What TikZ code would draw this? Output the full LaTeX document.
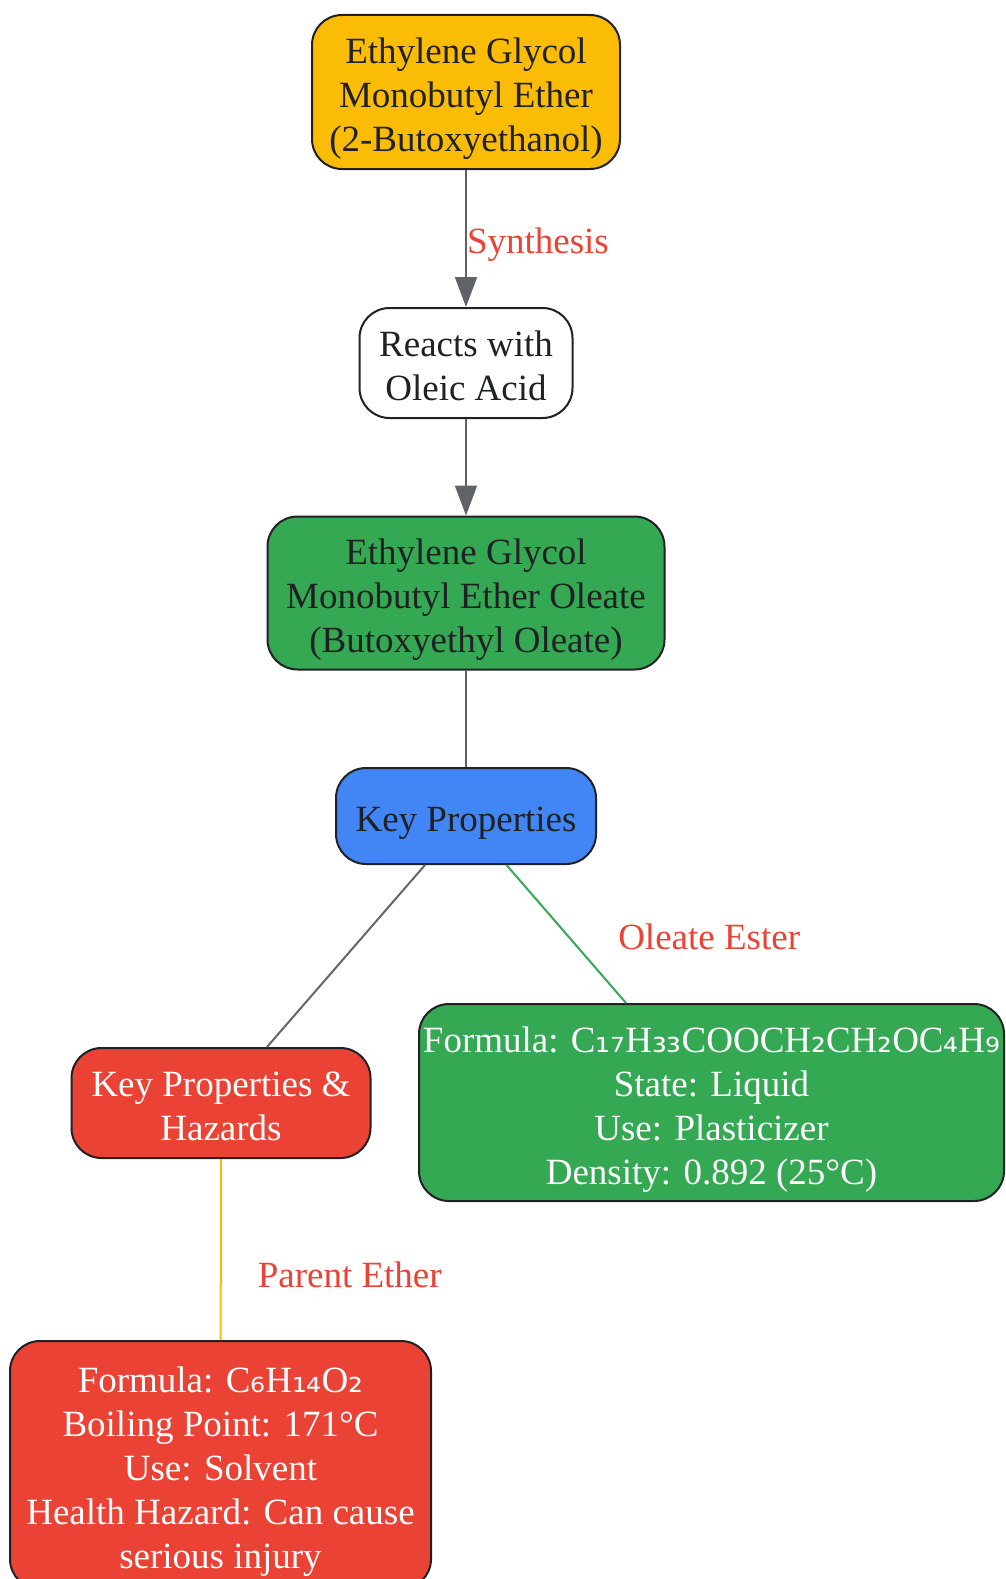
\documentclass[tikz,border=0pt]{standalone}
\usepackage{fontspec}
\setmainfont{Liberation Serif}
\newfontfamily\subfont{DejaVu Sans}
\usetikzlibrary{arrows.meta}

\definecolor{gyellow}{HTML}{FBBC05}
\definecolor{ggreen}{HTML}{34A853}
\definecolor{gblue}{HTML}{4285F4}
\definecolor{gred}{HTML}{EA4335}
\definecolor{edgegray}{HTML}{5F6368}
\definecolor{linegray}{HTML}{666666}
\definecolor{inkdark}{HTML}{202124}

\newcommand{\chemsub}[1]{{\subfont #1}}

\tikzset{
  box/.style={draw=inkdark, line width=2pt, rounded corners=30pt, align=center,
    font=\fontsize{37}{44}\selectfont, inner sep=0pt, text depth=8pt},
  lines/.style={text height=#1},
  lbl/.style={text=gred, font=\fontsize{37}{44}\selectfont, inner sep=0pt},
  tip/.style={-{Triangle[length=30pt,width=22pt]}},
}

\begin{document}
\begin{tikzpicture}[x=1pt,y=-1pt]
\useasboundingbox (0,0) rectangle (1006,1579);

\node[box, lines=127pt, fill=gyellow, text=inkdark, minimum width=308pt, minimum height=154pt] (glycol) at (466,92) {Ethylene Glycol\\Monobutyl Ether\\(2-Butoxyethanol)};
\node[box, lines=83pt, fill=white, text=inkdark, minimum width=213pt, minimum height=110pt] (reacts) at (466,363) {Reacts with\\Oleic Acid};
\node[box, lines=127pt, fill=ggreen, text=inkdark, minimum width=397pt, minimum height=153pt] (oleate) at (466,593) {Ethylene Glycol\\Monobutyl Ether Oleate\\(Butoxyethyl Oleate)};
\node[box, lines=39pt, fill=gblue, text=inkdark, minimum width=260pt, minimum height=96pt] (keyprops) at (466,816) {Key Properties};
\node[box, lines=83pt, fill=gred, text=white, minimum width=299pt, minimum height=110pt] (hazards) at (221,1103) {Key Properties \&\\Hazards};
\node[box, lines=171pt, fill=ggreen, text=white, minimum width=585pt, minimum height=197pt] (esterinfo) at (711.5,1102.5) {Formula: C\chemsub{₁₇}H\chemsub{₃₃}COOCH\chemsub{₂}CH\chemsub{₂}OC\chemsub{₄}H\chemsub{₉}\\State: Liquid\\Use: Plasticizer\\Density: 0.892 (25°C)};
\node[box, lines=215pt, fill=gred, text=white, minimum width=421pt, minimum height=248pt] (etherinfo) at (220.5,1465) {Formula: C\chemsub{₆}H\chemsub{₁₄}O\chemsub{₂}\\Boiling Point: 171°C\\Use: Solvent\\Health Hazard: Can cause\\serious injury};

\path[draw,line width=2pt,edgegray,tip] (glycol) -- node[lbl, anchor=west, yshift=-6pt] {Synthesis} (reacts);
\path[draw,line width=2pt,edgegray,tip] (reacts) -- (oleate);
\path[draw,line width=2pt,edgegray] (oleate) -- (keyprops);
\path[draw,line width=2pt,linegray] ([xshift=-41pt]keyprops.south) -- ([xshift=46pt]hazards.north);
\path[draw,line width=2pt,ggreen] ([xshift=40.5pt]keyprops.south) -- node[lbl, anchor=west, xshift=51pt, yshift=-3pt] {Oleate Ester} ([xshift=-85.5pt]esterinfo.north);
\path[draw,line width=2pt,gyellow] (hazards) -- node[lbl, anchor=west, xshift=36pt, yshift=-25pt] {Parent Ether} (etherinfo);
\end{tikzpicture}
\end{document}
